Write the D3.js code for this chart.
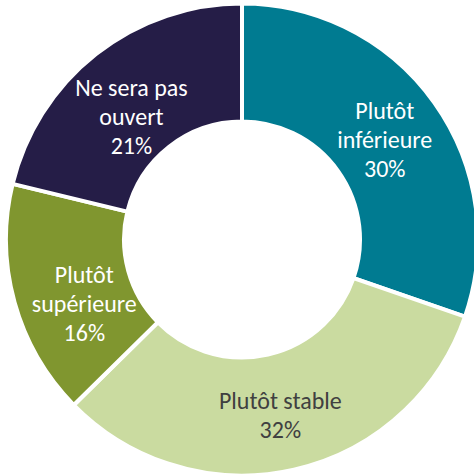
<!DOCTYPE html>
<html>
<head>
<meta charset="utf-8">
<script src="https://cdn.jsdelivr.net/npm/d3@7"></script>
<style>
  html, body { margin: 0; padding: 0; background: #ffffff; }
  svg { display: block; }
</style>
</head>
<body>
<svg id="chart" width="474" height="475"></svg>
<script>
// ---- Data ----
const categories = ["Plutôt inférieure", "Plutôt stable", "Plutôt supérieure", "Ne sera pas ouvert"];
const labelLines = [["Plutôt", "inférieure"], ["Plutôt stable"], ["Plutôt", "supérieure"], ["Ne sera pas", "ouvert"]];
const values = [30, 32, 16, 21];
const percentLabels = ["30%", "32%", "16%", "21%"];

// ---- Styles / layout ----
const colors = ["#007B91", "#CADBA0", "#80962F", "#251D47"];
const textColors = ["#ffffff", "#404040", "#ffffff", "#ffffff"];
const width = 474, height = 475;
const cx = 242, cy = 239.5;
const outerR = 236, innerR = 118;
const labelR = 174;
// label nudges (px) to mimic the reference's fitted label placement
const nudges = [[1, 1], [0, 6], [10, 18], [-3, 14]];
const fontSize = 24;
const lineH = 29;

const svg = d3.select("#chart");
const g = svg.append("g").attr("transform", `translate(${cx},${cy})`);

const pie = d3.pie().sort(null).value(d => d);
const arcs = pie(values);
const arc = d3.arc().innerRadius(innerR).outerRadius(outerR);
const labelArc = d3.arc().innerRadius(labelR).outerRadius(labelR);

g.selectAll("path.slice")
  .data(arcs)
  .join("path")
  .attr("class", "slice")
  .attr("d", arc)
  .attr("fill", (d, i) => colors[i])
  .attr("stroke", "#ffffff")
  .attr("stroke-width", 4)
  .attr("stroke-linejoin", "miter");

const labels = g.selectAll("text.lbl")
  .data(arcs)
  .join("text")
  .attr("class", "lbl")
  .attr("text-anchor", "middle")
  .attr("font-family", "Carlito, Calibri, Lato, 'Open Sans', sans-serif")
  .attr("font-size", fontSize)
  .attr("fill", (d, i) => textColors[i])
  .attr("transform", (d, i) => {
    const [x, y] = labelArc.centroid(d);
    return `translate(${x + nudges[i][0]},${y + nudges[i][1]})`;
  });

labels.each(function(d, i) {
  const lines = labelLines[i].concat([percentLabels[i]]);
  const n = lines.length;
  const t = d3.select(this);
  lines.forEach((ln, k) => {
    t.append("tspan")
      .attr("x", 0)
      .attr("y", (k - (n - 1) / 2) * lineH)
      .attr("dy", "0.35em")
      .text(ln);
  });
});
</script>
</body>
</html>
